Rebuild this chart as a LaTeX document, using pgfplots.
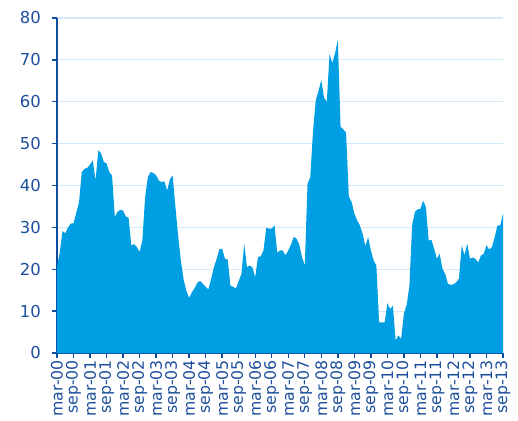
\documentclass[border=0pt]{standalone}
\usepackage{pgfplots}
\pgfplotsset{compat=1.18}
\usepackage{fontspec}
\setmainfont{DejaVu Sans}
\definecolor{fillcol}{HTML}{009FE3}
\definecolor{axiscol}{HTML}{0D4CA0}
\definecolor{textcol}{HTML}{1D4F9C}
\definecolor{gridcol}{HTML}{D2EAF8}
\begin{document}
\begin{tikzpicture}
\useasboundingbox (-57bp,-68bp) rectangle (461bp,353bp);
\begin{axis}[
  at={(0,0)}, anchor=south west,
  width=446bp, height=335bp, scale only axis,
  xmin=0, xmax=162, ymin=0, ymax=80,
  axis lines=left,
  axis line style={-, draw=axiscol, line width=1.8bp},
  ytick={0,10,...,80},
  xtick={0,6,...,162},
  xticklabels={mar-00,sep-00,mar-01,sep-01,mar-02,sep-02,mar-03,sep-03,mar-04,sep-04,mar-05,sep-05,mar-06,sep-06,mar-07,sep-07,mar-08,sep-08,mar-09,sep-09,mar-10,sep-10,mar-11,sep-11,mar-12,sep-12,mar-13,sep-13},
  tick align=outside,
  major tick length=5bp,
  tick style={draw=axiscol, line width=1.4bp},
  ymajorgrids,
  major grid style={draw=gridcol, line width=1.2bp},
  /pgf/number format/assume math mode=true,
  ticklabel style={text=textcol},
  xticklabel style={font=\fontsize{15.8}{18}\selectfont, rotate=90, anchor=east, inner sep=2bp, yshift=0bp},
  yticklabel style={font=\fontsize{16.5}{18}\selectfont, inner sep=2bp, xshift=-9bp},
]
\addplot[fill=fillcol, draw=none] coordinates {
(0,20.5)(1,24)(2,29.1)(3,28.6)(4,30)(5,30.9)(6,31)(7,33.5)(8,36)(9,43.2)
(10,44)(11,44.2)(12,45)(13,46)(14,41.2)(15,48.4)(16,47.7)(17,45.6)(18,45.3)(19,43.2)
(20,42.4)(21,32.5)(22,33.7)(23,34.2)(24,34)(25,32.6)(26,32.3)(27,25.7)(28,26)(29,25.3)
(30,24.1)(31,26.9)(32,37.2)(33,42)(34,43.2)(35,43)(36,42.4)(37,41.2)(38,40.8)(39,41)
(40,38.8)(41,41.5)(42,42.4)(43,35)(44,28)(45,22)(46,17.5)(47,14.8)(48,13.2)(49,14.5)
(50,15.5)(51,16.8)(52,17.2)(53,16.5)(54,15.8)(55,15.2)(56,17.7)(57,20.5)(58,22.5)(59,24.8)
(60,24.9)(61,22.5)(62,22.3)(63,16.1)(64,15.8)(65,15.4)(66,17.2)(67,18.9)(68,26.1)(69,20.5)
(70,20.9)(71,20.4)(72,18.1)(73,22.9)(74,23.1)(75,24.5)(76,29.9)(77,29.7)(78,29.7)(79,30.5)
(80,23.9)(81,24.5)(82,24.5)(83,23.3)(84,24.5)(85,25.9)(86,27.7)(87,27.3)(88,25.9)(89,22.9)
(90,20.9)(91,40.4)(92,42)(93,53)(94,60.4)(95,62.6)(96,65.2)(97,61)(98,60)(99,71.4)
(100,69.2)(101,71.6)(102,74.8)(103,54)(104,53.4)(105,52.6)(106,37.3)(107,36.1)(108,33.3)(109,31.7)
(110,30.5)(111,28.5)(112,25.5)(113,27.7)(114,24.5)(115,22.1)(116,20.9)(117,7.3)(118,7.3)(119,7.3)
(120,11.9)(121,10.5)(122,11.3)(123,3)(124,4.2)(125,3.4)(126,9.4)(127,11.4)(128,16)(129,30.5)
(130,33.7)(131,34.3)(132,34.4)(133,36.4)(134,34.8)(135,26.9)(136,27)(137,24.9)(138,22.5)(139,23.7)
(140,20.1)(141,18.9)(142,16.5)(143,16.3)(144,16.4)(145,16.9)(146,17.7)(147,25.7)(148,23.3)(149,26.1)
(150,22.5)(151,22.8)(152,22.5)(153,21.6)(154,23.3)(155,23.7)(156,25.7)(157,24.7)(158,25.3)(159,27.7)
(160,30.5)(161,30.5)(162,33.3)
} \closedcycle;
\end{axis}
\end{tikzpicture}
\end{document}
